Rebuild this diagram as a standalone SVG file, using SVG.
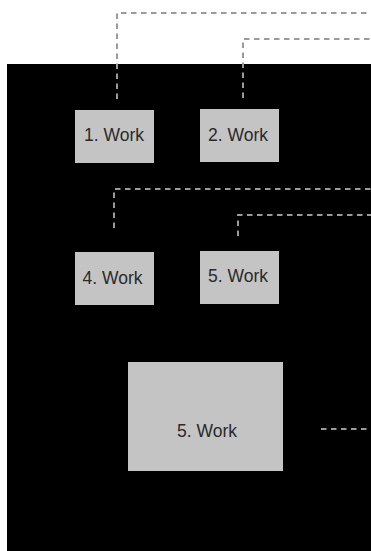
<svg xmlns="http://www.w3.org/2000/svg" width="371" height="551" viewBox="0 0 371 551">
<style>
.node rect{fill:#c4c4c4}
.node text{font-family:"Liberation Sans",Arial,sans-serif;font-size:17.5px;fill:#2a2a2a;text-anchor:middle}
.conn path{fill:none;stroke:#9a9a9a;stroke-width:2;stroke-dasharray:5.5 4.5}
</style>
<rect x="0" y="0" width="371" height="551" fill="#ffffff"/>
<rect id="background" x="7" y="64" width="364" height="487" fill="#000000"/>
<g id="connectors" class="conn">
<path d="M117 99 V13 H371"/>
<path d="M243 98 V39 H371"/>
<path d="M114 228 V189 H371"/>
<path d="M238 236 V215 H371"/>
<path d="M321 429 H371"/>
</g>
<g id="node1" class="node"><rect x="75" y="110" width="79" height="53"/><text x="114" y="141">1. Work</text></g>
<g id="node2" class="node"><rect x="200" y="109" width="79" height="53"/><text x="238" y="141">2. Work</text></g>
<g id="node4" class="node"><rect x="75" y="252" width="79" height="53"/><text x="112.5" y="283.5">4. Work</text></g>
<g id="node5" class="node"><rect x="200" y="251" width="79" height="53"/><text x="238" y="282">5. Work</text></g>
<g id="node5b" class="node"><rect x="128" y="362" width="155" height="109"/><text x="207" y="437">5. Work</text></g>
</svg>
